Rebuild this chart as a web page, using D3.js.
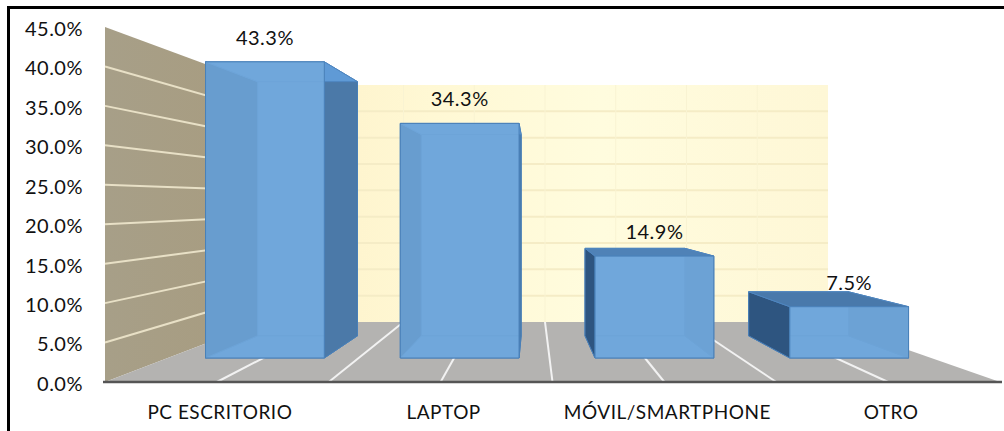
<!DOCTYPE html>
<html>
<head>
<meta charset="utf-8">
<script src="https://d3js.org/d3.v7.min.js"></script>
<style>
  html, body { margin: 0; padding: 0; background: #fff; }
  text { font-family: Lato, "Open Sans", sans-serif; fill: #111; letter-spacing: 0.5px; }
</style>
</head>
<body>
<svg id="chart" width="1004" height="431"></svg>
<script>
var categories = ["PC ESCRITORIO", "LAPTOP", "MÓVIL/SMARTPHONE", "OTRO"];
var values = [43.3, 34.3, 14.9, 7.5];
var valueLabels = ["43.3%", "34.3%", "14.9%", "7.5%"];
var yTicks = [0, 5, 10, 15, 20, 25, 30, 35, 40, 45];
var floorLines = [0.125, 0.25, 0.375, 0.5, 0.625, 0.75, 0.875];

var svg = d3.select("#chart");

// front plane of the 3d box and back plane of the 3d box
var xFront = d3.scaleLinear().domain([0, 1]).range([105, 1000]);
var xBack = d3.scaleLinear().domain([0, 1]).range([262, 828]);
var yFront = d3.scaleLinear().domain([0, 45]).range([382, 27]);
var yBack = d3.scaleLinear().domain([0, 45]).range([322, 85]);

// bar position inside the box, 0..1 across
var band = d3.scaleBand().domain(categories).range([0, 1])
  .paddingInner(0.39).paddingOuter(0.155).align(0.625);
var axisBand = d3.scaleBand().domain(categories).range([108, 1003]);

var depthFront = 0.4, depthBack = 0.77;

// u across, v value, d depth (0 front, 1 back)
function project(u, v, d) {
  return [
    xFront(u) + (xBack(u) - xFront(u)) * d,
    yFront(v) + (yBack(v) - yFront(v)) * d
  ];
}
function poly(points) {
  return "M" + points.map(function(p) { return p[0] + "," + p[1]; }).join("L") + "Z";
}

var defs = svg.append("defs");
function gradient(id, x2, y2, stops) {
  var g = defs.append("linearGradient").attr("id", id)
    .attr("x1", 0).attr("y1", 0).attr("x2", x2).attr("y2", y2);
  stops.forEach(function(s) {
    g.append("stop").attr("offset", s[0]).attr("stop-color", s[1]);
  });
}
gradient("backWall", 1, 0, [[0, "#fdf1c8"], [0.3, "#fff8d4"], [0.6, "#fffcde"], [1, "#fef7d6"]]);
gradient("sideWall", 1, 0, [[0, "#a79f88"], [1, "#a89c7f"]]);

var blur = defs.append("filter").attr("id", "soft");
blur.append("feGaussianBlur").attr("stdDeviation", 0.6);

var g = svg.append("g").attr("filter", "url(#soft)");

// walls and floor
g.append("path")
  .attr("d", poly([project(0, 0, 1), project(1, 0, 1), project(1, 45, 1), project(0, 45, 1)]))
  .attr("fill", "url(#backWall)");
g.append("path")
  .attr("d", poly([project(0, 0, 0), project(0, 0, 1), project(0, 45, 1), project(0, 45, 0)]))
  .attr("fill", "url(#sideWall)");
g.append("path")
  .attr("d", poly([project(0, 0, 0), project(1, 0, 0), project(1, 0, 1), project(0, 0, 1)]))
  .attr("fill", "#b4b3b1");

// gridlines
g.selectAll(".backGrid").data(yTicks.slice(1, -1)).enter().append("line")
  .attr("class", "backGrid")
  .attr("x1", function(d) { return project(0, d, 1)[0]; })
  .attr("y1", function(d) { return project(0, d, 1)[1]; })
  .attr("x2", function(d) { return project(1, d, 1)[0]; })
  .attr("y2", function(d) { return project(1, d, 1)[1]; })
  .attr("stroke", "#f5ecc6").attr("stroke-width", 2);
g.selectAll(".backVert").data(floorLines).enter().append("line")
  .attr("class", "backVert")
  .attr("x1", function(d) { return project(d, 0, 1)[0]; })
  .attr("y1", function(d) { return project(d, 0, 1)[1]; })
  .attr("x2", function(d) { return project(d, 45, 1)[0]; })
  .attr("y2", function(d) { return project(d, 45, 1)[1]; })
  .attr("stroke", "#f9f3d2").attr("stroke-width", 1);
g.selectAll(".wallGrid").data(yTicks.slice(1, -1)).enter().append("line")
  .attr("class", "wallGrid")
  .attr("x1", function(d) { return project(0, d, 0)[0]; })
  .attr("y1", function(d) { return project(0, d, 0)[1]; })
  .attr("x2", function(d) { return project(0, d, 1)[0]; })
  .attr("y2", function(d) { return project(0, d, 1)[1]; })
  .attr("stroke", "#e8e0c6").attr("stroke-width", 2);
g.selectAll(".floorGrid").data(floorLines).enter().append("line")
  .attr("class", "floorGrid")
  .attr("x1", function(d) { return project(d, 0, 0)[0]; })
  .attr("y1", function(d) { return project(d, 0, 0)[1]; })
  .attr("x2", function(d) { return project(d, 0, 1)[0]; })
  .attr("y2", function(d) { return project(d, 0, 1)[1]; })
  .attr("stroke", "#f2f2f2").attr("stroke-width", 2);

// bars, painted back to front, front face is see through
var topColor = d3.scaleLinear().domain([7.5, 34.3]).range(["#4a79ab", "#5e9ad6"]).clamp(true);
var barData = categories.map(function(c, i) { return { name: c, value: values[i], label: valueLabels[i] }; });

var bar = g.selectAll(".bar").data(barData).enter().append("g").attr("class", "bar");

function face(fill, opacity, corners) {
  bar.append("path")
    .attr("d", function(d) { return poly(corners(d)); })
    .attr("fill", fill)
    .attr("fill-opacity", opacity)
    .attr("stroke", "#4a80b8")
    .attr("stroke-width", 1);
}
function left(d) { return band(d.name); }
function right(d) { return band(d.name) + band.bandwidth(); }

// back
face("#5f9cd6", 1, function(d) {
  return [project(left(d), 0, depthBack), project(right(d), 0, depthBack),
          project(right(d), d.value, depthBack), project(left(d), d.value, depthBack)];
});
// bottom
face("#5f9cd6", 1, function(d) {
  return [project(left(d), 0, depthFront), project(right(d), 0, depthFront),
          project(right(d), 0, depthBack), project(left(d), 0, depthBack)];
});
// left side
face("#2f5480", 1, function(d) {
  return [project(left(d), 0, depthFront), project(left(d), 0, depthBack),
          project(left(d), d.value, depthBack), project(left(d), d.value, depthFront)];
});
// right side
face("#4b79a8", 1, function(d) {
  return [project(right(d), 0, depthFront), project(right(d), 0, depthBack),
          project(right(d), d.value, depthBack), project(right(d), d.value, depthFront)];
});
// top
bar.append("path")
  .attr("d", function(d) {
    return poly([project(left(d), d.value, depthFront), project(right(d), d.value, depthFront),
                 project(right(d), d.value, depthBack), project(left(d), d.value, depthBack)]);
  })
  .attr("fill", function(d) { return topColor(d.value); })
  .attr("stroke", "#4f86c0").attr("stroke-width", 1);
// front
face("#72a9dc", 0.86, function(d) {
  return [project(left(d), 0, depthFront), project(right(d), 0, depthFront),
          project(right(d), d.value, depthFront), project(left(d), d.value, depthFront)];
});

// axis base line
g.append("line")
  .attr("x1", xFront(0) - 2).attr("x2", xFront(1) + 2)
  .attr("y1", yFront(0)).attr("y2", yFront(0))
  .attr("stroke", "#555").attr("stroke-width", 2.5);

// y axis
var yAxis = d3.axisLeft(yFront).tickValues(yTicks)
  .tickFormat(function(d) { return d3.format(".1f")(d) + "%"; })
  .tickSize(0).tickPadding(22);
var yG = svg.append("g").attr("transform", "translate(105,2)").call(yAxis);
yG.select(".domain").remove();
yG.selectAll("text").style("font-size", "20px");

// x axis
var xAxis = d3.axisBottom(axisBand).tickSize(0).tickPadding(24);
var xG = svg.append("g").attr("transform", "translate(0,382)").call(xAxis);
xG.select(".domain").remove();
xG.selectAll("text").style("font-size", "19px");

// value labels
svg.selectAll(".valueLabel").data(barData).enter().append("text")
  .attr("class", "valueLabel")
  .attr("x", function(d) { return project(band(d.name) + band.bandwidth() / 2, 0, depthFront)[0]; })
  .attr("y", function(d) { return project(0, d.value, depthFront)[1] - 24; })
  .attr("dy", "0.35em")
  .attr("text-anchor", "middle")
  .style("font-size", "20px")
  .text(function(d) { return d.label; });

// frame
svg.append("rect")
  .attr("x", 8.5).attr("y", 7.5).attr("width", 1100).attr("height", 500)
  .attr("fill", "none").attr("stroke", "#000").attr("stroke-width", 3);
</script>
</body>
</html>
